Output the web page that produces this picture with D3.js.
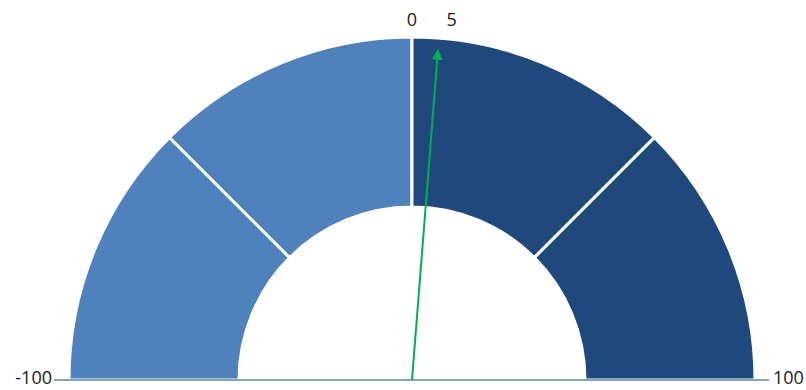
<!DOCTYPE html>
<html>
<head>
<meta charset="utf-8">
<script src="https://cdn.jsdelivr.net/npm/d3@7"></script>
<style>
  html, body { margin: 0; padding: 0; background: #fff; }
  svg text { font-family: "Open Sans", "Liberation Sans", sans-serif; fill: #1a1a1a; }
</style>
</head>
<body>
<svg id="chart" width="806" height="390"></svg>
<script>
// Gauge bands (domain -100..100) and their colours
const bandStarts = [-100, -50, 0, 50];
const bandEnds = [-50, 0, 50, 100];
const bandColors = ["#4f81bd", "#4f81bd", "#1f497d", "#1f497d"];
// Pointer value and labels
const needleValue = 5;
const scaleLabels = ["-100", "0", "100"];

const svg = d3.select("#chart");
const cx = 412, cy = 380;
const outerR = 343, innerR = 173;
const fs = 18;

// value -> angle (radians, 0 = up, clockwise)
const angle = d3.scaleLinear().domain([-100, 100]).range([-Math.PI / 2, Math.PI / 2]);

const arc = d3.arc().innerRadius(innerR).outerRadius(outerR);

const g = svg.append("g").attr("transform", `translate(${cx},${cy})`);

g.selectAll("path.band")
  .data(bandStarts.map((s, i) => ({ s, e: bandEnds[i], c: bandColors[i] })))
  .join("path")
  .attr("class", "band")
  .attr("d", d => arc({ startAngle: angle(d.s), endAngle: angle(d.e) }))
  .attr("fill", d => d.c)
  .attr("stroke", "#ffffff")
  .attr("stroke-width", 3);

// baseline
svg.append("line")
  .attr("x1", 54).attr("x2", 769)
  .attr("y1", cy).attr("y2", cy)
  .attr("stroke", "#5b8a96").attr("stroke-width", 1.3);

// end labels
svg.append("text").attr("x", 52).attr("y", cy + 4).attr("text-anchor", "end")
  .attr("font-size", fs).text(scaleLabels[0]);
svg.append("text").attr("x", 773).attr("y", cy + 4).attr("text-anchor", "start")
  .attr("font-size", fs).text(scaleLabels[2]);
svg.append("text").attr("x", cx + outerR * Math.sin(angle(0))).attr("y", 26).attr("text-anchor", "middle")
  .attr("font-size", fs).text(scaleLabels[1]);

// needle
const defs = svg.append("defs");
defs.append("marker")
  .attr("id", "arrow").attr("viewBox", "0 0 10 10")
  .attr("refX", 8).attr("refY", 5)
  .attr("markerWidth", 5.5).attr("markerHeight", 5.5)
  .attr("orient", "auto")
  .append("path").attr("d", "M0,0 L10,5 L0,10 z").attr("fill", "#00b050");

const needleLen = 330;
const a = angle(needleValue);
const tipX = cx + needleLen * Math.sin(a);
const tipY = cy - needleLen * Math.cos(a);
svg.append("line")
  .attr("x1", cx).attr("y1", cy)
  .attr("x2", tipX).attr("y2", tipY)
  .attr("stroke", "#00b050").attr("stroke-width", 2)
  .attr("marker-end", "url(#arrow)");

svg.append("text").attr("x", cx + (outerR + 10) * Math.sin(a) + 12).attr("y", 26)
  .attr("text-anchor", "middle").attr("font-size", fs).text(needleValue);
</script>
</body>
</html>
